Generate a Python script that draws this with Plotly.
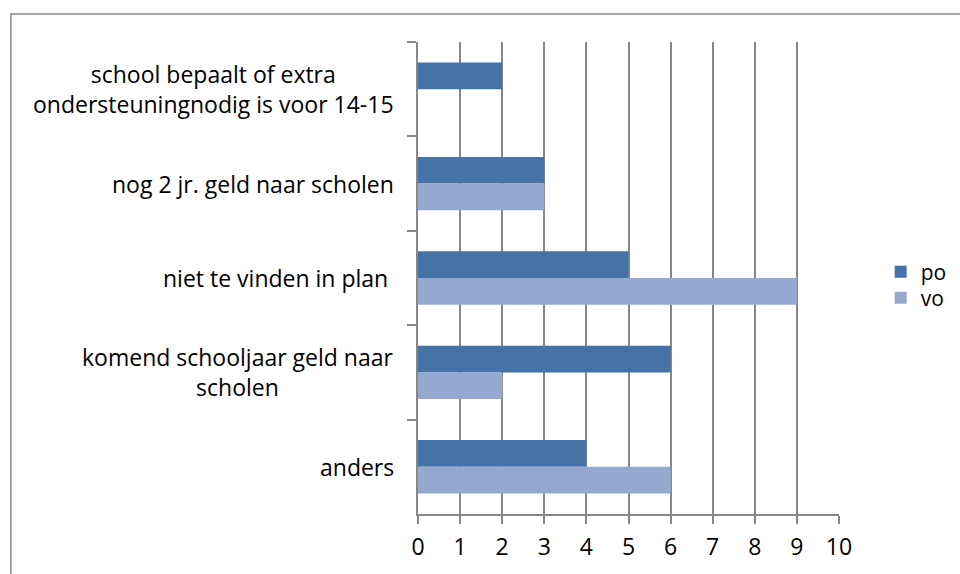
import plotly.graph_objects as go

categories = [
    "school bepaalt of extra<br>ondersteuningnodig is voor 14-15",
    "nog 2 jr. geld naar scholen",
    "niet te vinden in plan\u00a0",
    "komend schooljaar geld naar<br>scholen",
    "anders",
]
cat_keys = ["c1", "c2", "c3", "c4", "c5"]
po_values = [2, 3, 5, 6, 4]
vo_values = [0, 3, 9, 2, 6]
x_ticks = list(range(0, 11))

FONT = "Open Sans"
GRID = "#878787"
FS = 23

fig = go.Figure()
fig.add_trace(go.Bar(y=cat_keys, x=po_values, name="po", orientation="h",
                     legend="legend",
                     marker=dict(color="#4572A7", line=dict(width=0))))
fig.add_trace(go.Bar(y=cat_keys, x=vo_values, name="vo", orientation="h",
                     legend="legend2",
                     marker=dict(color="#95A9D0", line=dict(width=0))))

for key, label in zip(cat_keys, categories):
    fig.add_annotation(x=0, y=key, xref="x", yref="y", text=label,
                       showarrow=False, xanchor="right", yanchor="middle",
                       align="center", xshift=-22,
                       font=dict(family=FONT, size=FS, color="#000"))

fig.add_shape(type="rect", xref="paper", yref="paper",
              x0=-0.967, x1=1.5, y0=-0.5, y1=1.0593,
              line=dict(color="#8a8a8a", width=1.5), layer="below")

leg_common = dict(xanchor="left", yanchor="middle", font=dict(family=FONT, size=21),
                  itemwidth=30, bgcolor="rgba(0,0,0,0)", borderwidth=0)

fig.update_layout(
    width=960, height=574,
    margin=dict(l=418, r=121, t=42, b=60, autoexpand=False),
    paper_bgcolor="white", plot_bgcolor="white",
    barmode="group", bargap=0.434, bargroupgap=0,
    font=dict(family=FONT, size=FS, color="#000"),
    showlegend=True,
    legend=dict(x=1.099, y=0.5127, **leg_common),
    legend2=dict(x=1.099, y=0.4576, **leg_common),
    xaxis=dict(range=[0, 10], tickvals=x_ticks, ticktext=[str(v) for v in x_ticks],
               showgrid=True, gridcolor=GRID, gridwidth=1.5,
               showline=True, linecolor=GRID, linewidth=2,
               ticks="outside", ticklen=8, tickcolor=GRID, tickwidth=2,
               ticklabelstandoff=3,
               zeroline=False, fixedrange=True,
               tickfont=dict(family=FONT, size=FS, color="#000")),
    yaxis=dict(autorange="reversed", type="category",
               showticklabels=False, showgrid=False,
               showline=True, linecolor=GRID, linewidth=2,
               ticks="outside", ticklen=9, tickcolor=GRID, tickwidth=2,
               tickson="boundaries", zeroline=False, fixedrange=True),
)

fig.write_html("out.html", config={"displayModeBar": False},
               post_script="document.body.style.margin='0';document.body.style.overflow='hidden';")
